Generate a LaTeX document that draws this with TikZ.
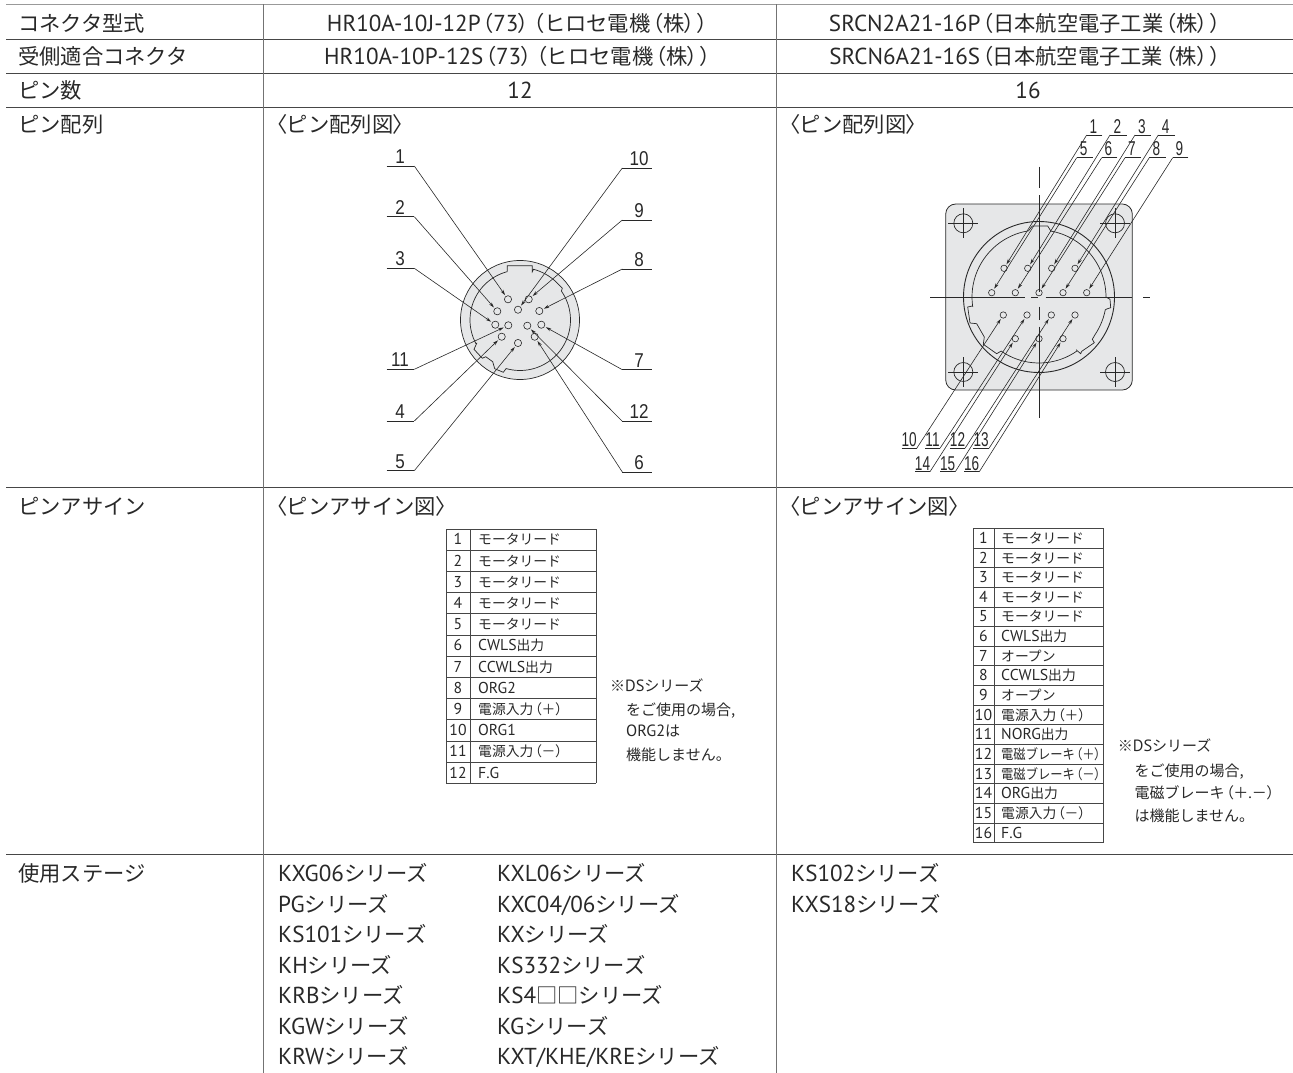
\documentclass[tikz,border=0pt]{standalone}
\usepackage{fontspec}
\usepackage{graphicx}
\usetikzlibrary{arrows.meta}
\setmainfont[Scale=1.05]{PT Sans}
\newfontfamily\jpf{Noto Sans CJK JP}
\newfontfamily\jpp[RawFeature=+palt]{Noto Sans CJK JP}
\newfontfamily\nA[FakeStretch=0.85]{Liberation Sans}
\newfontfamily\nB[FakeStretch=0.68]{Liberation Sans}
\def\jpsz{21.3}
\newcommand\Jp[1]{{\fontsize{\jpsz}{\jpsz}\jpf #1}}
\newcommand\LP{\kern.09em{\fontsize{\jpsz}{\jpsz}\jpp （}}
\newcommand\RP{{\fontsize{\jpsz}{\jpsz}\jpp ）}\kern.09em}
\newcommand\mot{\Jp{モータリード}}
\newcommand\ser{\Jp{シリーズ}}
\newcommand\opn{\Jp{オープン}}
\newcommand\brk[1]{\scalebox{0.89}[1]{\Jp{電磁ブレーキ}\LP\Jp{#1}\RP}}
\definecolor{ink}{RGB}{40,40,40}
\definecolor{rule}{RGB}{70,70,70}
\definecolor{body}{RGB}{230,231,232}
\tikzset{
  x=1pt,y=-1pt,
  big/.style={anchor=base west,inner sep=0,text=ink,font=\def\jpsz{21.3}\fontsize{22}{26}\selectfont},
  bigc/.style={big,anchor=base},
  small/.style={anchor=base west,inner sep=0,text=ink,font=\def\jpsz{13.8}\fontsize{15}{17}\selectfont},
  smallc/.style={small,anchor=base},
  note/.style={anchor=base west,inner sep=0,text=ink,font=\def\jpsz{15}\fontsize{15.5}{18}\selectfont},
  rowline/.style={draw=rule,line width=0.9pt},
  colline/.style={draw=black!55,line width=1pt},
  cellline/.style={draw=rule,line width=0.8pt},
  lead/.style={draw=ink,line width=0.6pt},
  leadarrow/.style={lead,-{Stealth[length=5.5pt,width=3.2pt]},shorten >=1.2pt},
  pinA/.style={circle,draw=ink,line width=0.6pt,inner sep=0,minimum size=7.2pt},
  pinB/.style={circle,draw=ink,line width=0.6pt,inner sep=0,minimum size=6.4pt},
  labA/.style={anchor=base,inner sep=0,text=ink,font=\nA\fontsize{20}{22}\selectfont},
  labB/.style={anchor=base,inner sep=0,text=ink,font=\nB\fontsize{20}{22}\selectfont},
  outline/.style={draw=ink,line width=0.7pt},
  center/.style={draw=ink,line width=0.7pt},
}
\begin{document}
\begin{tikzpicture}
\useasboundingbox (0,0) rectangle (1293,1073);
% ---------- table rules
\draw[draw=black!40,line width=1.1pt] (6,4.5) -- (1293,4.5);
\foreach \yy in {39.5,73,107,487.3,854.3}{\draw[rowline] (6,\yy) -- (1293,\yy);}
\draw[colline] (263,4.5) -- (263,1073);
\draw[colline] (776,4.5) -- (776,1073);
% ---------- first column
\node[big] (h1) at (18,32) {\Jp{コネクタ型式}};
\node[big] (h2) at (18,65) {\Jp{受側適合コネクタ}};
\node[big] (h3) at (18,99) {\Jp{ピン数}};
\node[big] (h4) at (18,132) {\Jp{ピン配列}};
\node[big] (h5) at (18,514) {\Jp{ピンアサイン}};
\node[big] (h6) at (18,881) {\Jp{使用ステージ}};
% ---------- header values
\node[bigc] (a1) at (518.5,31.5) {HR10A-10J-12P\LP 73\RP\LP\Jp{ヒロセ電機}\LP\Jp{株}\RP\RP};
\node[bigc] (a2) at (518.5,65) {HR10A-10P-12S\LP 73\RP\LP\Jp{ヒロセ電機}\LP\Jp{株}\RP\RP};
\node[bigc] (a3) at (520,98.5) {12};
\node[bigc] (b1) at (1026,31.5) {SRCN2A21-16P\LP\Jp{日本航空電子工業}\LP\Jp{株}\RP\RP};
\node[bigc] (b2) at (1026,65) {SRCN6A21-16S\LP\Jp{日本航空電子工業}\LP\Jp{株}\RP\RP};
\node[bigc] (b3) at (1028,98.5) {16};
\node[big] (a4) at (276,132) {{\fontsize{\jpsz}{\jpsz}\jpp 〈}\Jp{ピン配列図}{\fontsize{\jpsz}{\jpsz}\jpp 〉}};
\node[big] (b4) at (789,132) {{\fontsize{\jpsz}{\jpsz}\jpp 〈}\Jp{ピン配列図}{\fontsize{\jpsz}{\jpsz}\jpp 〉}};
\node[big] (a5) at (276,514) {{\fontsize{\jpsz}{\jpsz}\jpp 〈}\Jp{ピンアサイン図}{\fontsize{\jpsz}{\jpsz}\jpp 〉}};
\node[big] (b5) at (789,514) {{\fontsize{\jpsz}{\jpsz}\jpp 〈}\Jp{ピンアサイン図}{\fontsize{\jpsz}{\jpsz}\jpp 〉}};
% ---------- connector A
\fill[body,draw=ink,line width=0.7pt] (520,320) circle (59.5);
\begin{scope}[shift={(520,320)}]
\draw[outline] (-12.7,-49.3) -- (-12.7,-54.3) -- (12.3,-54.3) -- (12.3,-48.3)
  -- plot[domain=-75:-43,samples=10] (\x:52.5) -- (42.3,-31.7)
  -- plot[domain=-35:106,samples=40] (\x:50.5)
  -- (-16.7,52.3) -- (-25.3,48.7) -- (-27.3,41.7) -- (-34.3,36.7) -- (-37.7,38.3) -- (-46,29.3) -- (-43.3,23.3)
  -- plot[domain=152:255,samples=30] (\x:50) -- cycle;
\end{scope}
\node[pinA] (p1) at (508,299.3) {};
\node[pinA] (p2) at (497.3,311.3) {};
\node[pinA] (p3) at (495.3,324.7) {};
\node[pinA] (p4) at (501.7,336.7) {};
\node[pinA] (p5) at (518,343) {};
\node[pinA] (p6) at (534.7,336.7) {};
\node[pinA] (p7) at (541.3,324.7) {};
\node[pinA] (p8) at (539.3,311) {};
\node[pinA] (p9) at (528.7,299.3) {};
\node[pinA] (p10) at (518,309.7) {};
\node[pinA] (p11) at (508.3,325.3) {};
\node[pinA] (p12) at (527.3,325.7) {};
\foreach \n/\yy in {1/166,2/216.7,3/268.3,11/369.3,4/421,5/470.7}{
  \coordinate (ua\n) at (386.7,\yy);
  \coordinate (ub\n) at (414.3,\yy);
  \draw[lead] (ua\n) -- (ub\n);
  \draw[leadarrow] (ub\n) -- (p\n);
  \node[labA] (la\n) at (400,\yy-2.5) {\n};
}
\foreach \n/\yy in {10/168,9/220,8/269,7/369.7,12/421.3,6/472}{
  \coordinate (ua\n) at (651.7,\yy);
  \coordinate (ub\n) at (622.3,\yy);
  \draw[lead] (ua\n) -- (ub\n);
  \draw[leadarrow] (ub\n) -- (p\n);
  \node[labA] (la\n) at (639,\yy-2.5) {\n};
}
% ---------- connector B
\fill[body,draw=ink,line width=0.8pt,rounded corners=10pt] (945.7,204) rectangle (1132.3,390);
\draw[outline,line width=0.9pt] (1039,297) circle (75.5);
\begin{scope}[shift={(1039,297)}]
\draw[outline] (12,-65.7) -- plot[domain=-79:0,samples=24] (\x:67) -- (71,2.3) -- (71.7,10.7) -- (67.7,12)
  -- plot[domain=11:34,samples=8] (\x:67.5) -- (53.3,42.3) -- (55.3,45.7) -- (42.7,54.3) -- (41.7,56.7) -- (37.7,53.3)
  -- plot[domain=55:125,samples=20] (\x:66) -- (-42.3,56.7) -- (-55.7,47.3) -- (-54.7,40) -- (-62.3,26.7) -- (-69,26) -- (-71.3,10) -- (-66.7,9)
  -- plot[domain=172:261,samples=24] (\x:67) -- (-6.7,-71) -- (8.7,-71) -- cycle;
\end{scope}
% centre lines
\draw[center] (1039,166.7) -- (1039,188.3);
\draw[center] (1039,195) -- (1039,292);
\draw[center] (1039,306.7) -- (1039,320);
\draw[center] (1039,326.7) -- (1039,418.3);
\draw[center] (930,297.3) -- (1025,297.3);
\draw[center] (1031,297.3) -- (1038.3,297.3);
\draw[center] (1045.7,297.3) -- (1131.7,297.3);
\draw[center] (1143.3,297.3) -- (1150,297.3);
% mounting holes
\foreach \n/\cx/\cy in {1/963.3/223.3,2/1115/223.3,3/963.3/372,4/1115/372}{
  \node[circle,draw=ink,line width=0.7pt,inner sep=0,minimum size=19pt] (hole\n) at (\cx,\cy) {};
  \draw[center,line width=0.6pt] (\cx-15,\cy) -- (\cx+15,\cy);
  \draw[center,line width=0.6pt] (\cx,\cy-15) -- (\cx,\cy+15);
}
% pins B
\node[pinB] (q1) at (1004,268.3) {};
\node[pinB] (q2) at (1027.7,268.3) {};
\node[pinB] (q3) at (1051.7,268.3) {};
\node[pinB] (q4) at (1075,268.3) {};
\node[pinB] (q5) at (991.7,292.7) {};
\node[pinB] (q6) at (1015.3,292.7) {};
\node[pinB] (q7) at (1039,292.7) {};
\node[pinB] (q8) at (1063,292.7) {};
\node[pinB] (q9) at (1086.7,292.7) {};
\node[pinB] (q10) at (1003.3,315) {};
\node[pinB] (q11) at (1027,315) {};
\node[pinB] (q12) at (1051.3,315) {};
\node[pinB] (q13) at (1075,315) {};
\node[pinB] (q14) at (1015.3,338.7) {};
\node[pinB] (q15) at (1039,338.7) {};
\node[pinB] (q16) at (1063,338.7) {};
\foreach \n/\xl/\xr/\yy in {1/1086.7/1102.3/135,2/1110/1126.7/135,3/1135/1150.7/135,4/1158.3/1175/135,
  5/1076.7/1092.7/157.7,6/1101.7/1117.3/157.7,7/1125/1141/157.7,8/1149.3/1165.7/157.7,9/1172.7/1188.3/157.7}{
  \coordinate (va\n) at (\xr,\yy);
  \coordinate (vb\n) at (\xl,\yy);
  \draw[lead] (va\n) -- (vb\n);
  \draw[leadarrow] (vb\n) -- (q\n);
  \node[labB] (lb\n) at ({(\xl+\xr)/2-1},\yy-2) {\n};
}
\foreach \n/\xl/\xr/\yy in {10/901.7/916.7/448.3,11/925/940/448.3,12/950/965/448.3,13/973.3/989/448.3,
  14/915/930/471.7,15/940/955.3/471.7,16/964/979.3/471.7}{
  \coordinate (va\n) at (\xl,\yy);
  \coordinate (vb\n) at (\xr,\yy);
  \draw[lead] (va\n) -- (vb\n);
  \draw[leadarrow] (vb\n) -- (q\n);
  \node[labB] (lb\n) at ({(\xl+\xr)/2},\yy-1.5) {\n};
}
% ---------- pin-assign table A
\foreach \i in {0,...,12}{\draw[cellline] (446,{529+21.2*\i}) -- (596,{529+21.2*\i});}
\draw[cellline] (446,529) -- (446,783.4);
\draw[cellline] (470,529) -- (470,783.4);
\draw[cellline] (596,529) -- (596,783.4);
\foreach \n/\t in {1/\mot,2/\mot,3/\mot,4/\mot,5/\mot,6/{CWLS\Jp{出力}},7/{CCWLS\Jp{出力}},8/ORG2,
  9/{\Jp{電源入力}\LP\Jp{＋}\RP},10/ORG1,11/{\Jp{電源入力}\LP\Jp{－}\RP},12/F.G}{
  \node[smallc] (tan\n) at (458,{529+21.2*\n-5.4}) {\n};
  \node[small] (tat\n) at (478,{529+21.2*\n-5.4}) {\t};
}
\node[note] (na1) at (610,691.7) {\Jp{※}DS\ser};
\node[note] (na2) at (626,715) {\Jp{をご使用の場合,}};
\node[note] (na3) at (626,736.7) {ORG2\Jp{は}};
\node[note] (na4) at (626,760) {\Jp{機能しません。}};
% ---------- pin-assign table B
\foreach \i in {0,...,16}{\draw[cellline] (973,{528.3+19.65*\i}) -- (1103.3,{528.3+19.65*\i});}
\draw[cellline] (973,528.3) -- (973,842.7);
\draw[cellline] (994,528.3) -- (994,842.7);
\draw[cellline] (1103.3,528.3) -- (1103.3,842.7);
\foreach \n/\t in {1/\mot,2/\mot,3/\mot,4/\mot,5/\mot,6/{CWLS\Jp{出力}},7/\opn,8/{CCWLS\Jp{出力}},9/\opn,
  10/{\Jp{電源入力}\LP\Jp{＋}\RP},11/{NORG\Jp{出力}},12/{\brk{＋}},13/{\brk{－}},
  14/{ORG\Jp{出力}},15/{\Jp{電源入力}\LP\Jp{－}\RP},16/F.G}{
  \node[smallc] (tbn\n) at (983.5,{528.3+19.65*\n-4.6}) {\n};
  \node[small] (tbt\n) at (1001,{528.3+19.65*\n-4.6}) {\t};
}
\node[note] (nb1) at (1117.7,751.7) {\Jp{※}DS\ser};
\node[note] (nb2) at (1134.3,776.7) {\Jp{をご使用の場合,}};
\node[note] (nb3) at (1134.3,798.3) {\Jp{電磁ブレーキ}\LP\Jp{＋}.\Jp{－}\RP};
\node[note] (nb4) at (1134.3,821) {\Jp{は機能しません。}};
% ---------- stages
\node[big] (s1) at (278,881.5) {KXG06\ser};
\node[big] (s2) at (278,912) {PG\ser};
\node[big] (s3) at (278,942.5) {KS101\ser};
\node[big] (s4) at (278,973) {KH\ser};
\node[big] (s5) at (278,1003.5) {KRB\ser};
\node[big] (s6) at (278,1034) {KGW\ser};
\node[big] (s7) at (278,1064.5) {KRW\ser};
\node[big] (r1) at (497,881.5) {KXL06\ser};
\node[big] (r2) at (497,912) {KXC04/06\ser};
\node[big] (r3) at (497,942.5) {KX\ser};
\node[big] (r4) at (497,973) {KS332\ser};
\node[big] (r5) at (497,1003.5) {KS4\Jp{□□}\ser};
\node[big] (r6) at (497,1034) {KG\ser};
\node[big] (r7) at (497,1064.5) {KXT/KHE/KRE\ser};
\node[big] (u1) at (791,881.5) {KS102\ser};
\node[big] (u2) at (791,912) {KXS18\ser};
\end{tikzpicture}
\end{document}
